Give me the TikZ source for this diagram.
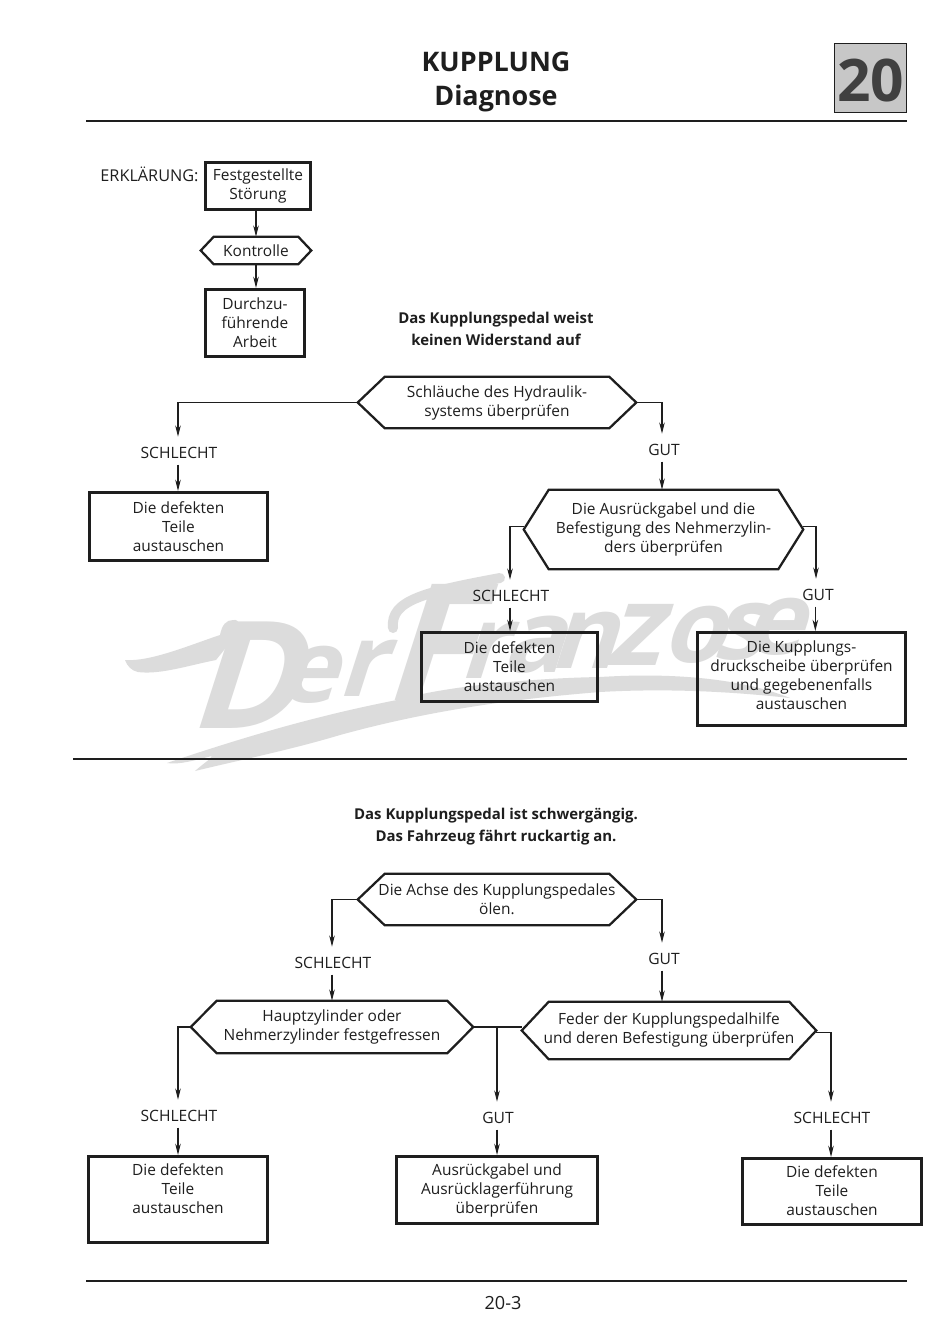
\documentclass[tikz,border=0pt]{standalone}
\usepackage{fontspec}
\setmainfont{Open Sans}
\newfontfamily\wmfam[FakeSlant=0.32]{Open Sans}
\usetikzlibrary{arrows.meta,calc}
\definecolor{ink}{HTML}{1E1E1E}
\definecolor{wm}{HTML}{DCDCDC}
\newcommand{\bodyfont}{\fontsize{11.6}{14.25}\selectfont}
\newcommand{\capfont}{\fontsize{11.7}{13}\selectfont}
\newcommand{\headfont}{\fontsize{11.2}{16.5}\selectfont\bfseries}
\newcommand{\wmf}[1]{\fontsize{#1}{#1}\selectfont\wmfam\bfseries}
\newcommand{\down}[1]{\rule[-#1]{0pt}{#1}}
\tikzset{
  px/.style={x=0.75pt,y=-0.75pt},
  boxn/.style={draw=ink,line width=1.9pt,inner sep=0pt,align=center,font=\bodyfont,text=ink,minimum width=#1},
  hexn/.style={inner sep=0pt,align=center,font=\bodyfont,text=ink},
  hexline/.style={draw=ink,line width=1.7pt,line join=miter},
  capn/.style={inner sep=0pt,font=\capfont,text=ink,minimum height=24pt},
  headn/.style={inner sep=0pt,align=center,font=\headfont,text=ink},
  conn/.style={draw=ink,line width=0.8pt},
  arr/.style={conn,-{Stealth[length=8.5pt,width=4.2pt]}},
  arrb/.style={arr,shorten <=-3.5pt},
  rulen/.style={draw=ink,line width=1.9pt},
  wmn/.style={inner sep=0pt,text=wm,font=\wmf{76}},
}
% name, left, right, top, bottom, inset, text
\newcommand{\hexa}[7]{%
  \node[hexn,minimum width={(#3-#2)*0.75pt},minimum height={(#5-#4)*0.75pt}] (#1) at ({(#2+#3)/2},{(#4+#5)/2}) {#7};
  \draw[hexline] (#1.west) -- ($(#1.north west)+(#6,0)$) -- ($(#1.north east)+(-#6,0)$) -- (#1.east) -- ($(#1.south east)+(-#6,0)$) -- ($(#1.south west)+(#6,0)$) -- cycle;
}
% name, left, top, right, bottom, text
\newcommand{\boxa}[6]{%
  \node[boxn={(#4-#2)*0.75pt-1.9pt},minimum height={(#5-#3)*0.75pt-1.9pt}] (#1) at ({(#2+#4)/2},{(#3+#5)/2}) {#6};
}
\begin{document}
\begin{tikzpicture}[px]
\useasboundingbox (0,0) rectangle (950,1343);
\fill[white] (0,0) rectangle (950,1343);

% watermark
\fill[wm] (125,660) .. controls (150,662) and (190,645) .. (220,635) .. controls (222,625) and (226,620) .. (233,620)
  .. controls (240,619) and (241,626) .. (237,634) -- (216,660) .. controls (190,665) and (160,675) .. (138,672) .. controls (132,671) and (127,666) .. (125,660) -- cycle;
\fill[wm] (167,763) .. controls (250,735) and (320,715) .. (397,700) .. controls (450,685) and (540,678) .. (600,677)
  .. controls (680,672) and (745,680) .. (790,698) .. controls (735,692) and (670,688) .. (600,692)
  .. controls (500,700) and (420,713) .. (340,735) .. controls (290,750) and (240,760) .. (195,771) .. controls (205,762) and (210,760) .. (212,756) .. controls (195,760) and (180,765) .. (167,763) -- cycle;
\draw[wm,line width=7.5pt,line cap=round] (393,628) .. controls (390,600) and (425,592) .. (500,578);
\node[wmn,font=\wmf{112}] (wmD) at (242,675) {D};
\node[wmn] (wmE) at (305,675) {e};
\node[wmn] (wmR) at (360,668) {r};
\node[wmn,font=\wmf{122}] (wmF) at (425,642) {F};
\node[wmn] (wmR2) at (482,650) {r};
\node[wmn] (wmA) at (532,645) {a};
\node[wmn] (wmN) at (582,640) {n};
\node[wmn,font=\wmf{84}] (wmZ) at (632,635) {z};
\node[wmn] (wmO) at (692,635) {o};
\node[wmn] (wmS) at (737,632) {s};
\node[wmn] (wmE2) at (772,627) {e};

% header
\node[inner sep=0pt,align=center,text=ink,font=\fontsize{20.2}{24.8}\selectfont\bfseries] (title) at (496,82) {KUPPLUNG\\Diagnose};
\node[draw=ink,line width=0.9pt,fill=black!22,inner sep=0pt,minimum width=53.5pt,minimum height=52pt,text=ink!85,font=\fontsize{44}{44}\selectfont\bfseries] (badge) at (870.5,78) {\rule{0pt}{36pt}20};
\coordinate (r1a) at (86,121); \coordinate (r1b) at (907,121);
\draw[rulen] (r1a) -- (r1b);
\coordinate (r2a) at (73,759); \coordinate (r2b) at (907,759);
\draw[rulen] (r2a) -- (r2b);
\coordinate (r3a) at (86,1281); \coordinate (r3b) at (907,1281);
\draw[rulen] (r3a) -- (r3b);
\node[inner sep=0pt,text=ink,font=\fontsize{13.6}{14}\selectfont] (page) at (503,1303) {20-3};

% legend
\node[inner sep=0pt,text=ink,font=\fontsize{12.2}{14}\selectfont] (erk) at (149.5,174) {ERKLÄRUNG:};
\boxa{lb1}{204}{161}{312}{211}{Festgestellte\\Störung\down{3pt}}
\hexa{lb2}{201}{311}{237}{264}{13}{Kontrolle}
\boxa{lb3}{204}{288}{306}{358}{Durchzu-\\führende\\Arbeit}
\draw[arr] (lb1.south -| 256,0) -- (lb2.north -| 256,0);
\draw[arr] (lb2.south -| 256,0) -- (lb3.north -| 256,0);

% first diagram
\node[headn] (h1) at (496,329) {Das Kupplungspedal weist\\keinen Widerstand auf};
\hexa{a1}{358}{636}{377}{428}{27}{Schläuche des Hydraulik-\\systems überprüfen}
\node[capn] (a1s) at (179,453) {SCHLECHT};
\node[capn] (a1g) at (664,450) {GUT};
\boxa{a2}{88}{491}{269}{562}{Die defekten\\Teile\\austauschen}
\hexa{a3}{524}{803}{490}{569}{25}{Die Ausrückgabel und die\\Befestigung des Nehmerzylin-\\ders überprüfen}
\node[capn] (a3s) at (511,596) {SCHLECHT};
\node[capn] (a3g) at (818,595) {GUT};
\boxa{a4}{420}{631}{599}{703}{Die defekten\\Teile\\austauschen}
\boxa{a5}{696}{631}{907}{727}{Die Kupplungs-\\druckscheibe überprüfen\\und gegebenenfalls\\austauschen\down{6pt}}
\draw[arr] (a1.west) -| ([xshift=-0.75pt]a1s.north);
\draw[arrb] ([xshift=-0.75pt]a1s.south) -- ([xshift=-0.75pt]a1s.south |- a2.north);
\draw[arr] (a1.east) -| ([xshift=-1.5pt]a1g.north);
\draw[arrb] ([xshift=-1.5pt]a1g.south) -- ([xshift=-1.5pt]a1g.south |- a3.north);
\draw[arr] ([yshift=2pt]a3.west) -| ([xshift=-0.75pt]a3s.north);
\draw[arrb] ([xshift=-0.75pt]a3s.south) -- ([xshift=-0.75pt]a3s.south |- a4.north);
\draw[arr] ([yshift=2pt]a3.east) -| ([xshift=-1.5pt]a3g.north);
\draw[arrb] ([xshift=-2pt]a3g.south) -- ([xshift=-2pt]a3g.south |- a5.north);

% second diagram
\node[headn] (h2) at (496,827) {Das Kupplungspedal ist schwergängig.\\Das Fahrzeug fährt ruckartig an.};
\hexa{b1}{358}{636}{874}{925}{27}{Die Achse des Kupplungspedales\\ölen.}
\node[capn] (b1s) at (333,963) {SCHLECHT};
\node[capn] (b1g) at (664,959) {GUT};
\hexa{b2}{191}{473}{1001}{1053}{26}{Hauptzylinder oder\\Nehmerzylinder festgefressen}
\hexa{b3}{522}{816}{1002}{1059}{27}{Feder der Kupplungspedalhilfe\\und deren Befestigung überprüfen\down{4pt}}
\node[capn] (b2s) at (179,1116) {SCHLECHT};
\node[capn] (b2g) at (498,1118) {GUT};
\node[capn] (b3s) at (832,1118) {SCHLECHT};
\boxa{b4}{87}{1155}{269}{1244}{Die defekten\\Teile\\austauschen\down{16pt}}
\boxa{b5}{395}{1155}{599}{1225}{Ausrückgabel und\\Ausrücklagerführung\\überprüfen}
\boxa{b6}{741}{1157}{923}{1226}{Die defekten\\Teile\\austauschen\down{2pt}}
\draw[arr] (b1.west) -| ([xshift=-0.75pt]b1s.north);
\draw[arrb] ([xshift=-0.75pt]b1s.south) -- ([xshift=-0.75pt]b1s.south |- b2.north);
\draw[arr] (b1.east) -| ([xshift=-1.5pt]b1g.north);
\draw[arrb] ([xshift=-1.5pt]b1g.south) -- ([xshift=-1.5pt]b1g.south |- b3.north);
\draw[conn] (b2.east) -- (b3.west |- b2.east);
\draw[arr] ([xshift=-0.75pt]b2g.north |- b2.east) -- ([xshift=-0.75pt]b2g.north);
\draw[arr] (b2.west) -| ([xshift=-0.75pt]b2s.north);
\draw[arrb] ([xshift=-0.75pt]b2s.south) -- ([xshift=-0.75pt]b2s.south |- b4.north);
\draw[arrb] ([xshift=-0.75pt]b2g.south) -- ([xshift=-0.75pt]b2g.south |- b5.north);
\draw[arr] ([yshift=-1.5pt]b3.east) -| ([xshift=-0.75pt]b3s.north);
\draw[arrb] ([xshift=-0.75pt]b3s.south) -- ([xshift=-0.75pt]b3s.south |- b6.north);
\end{tikzpicture}
\end{document}
